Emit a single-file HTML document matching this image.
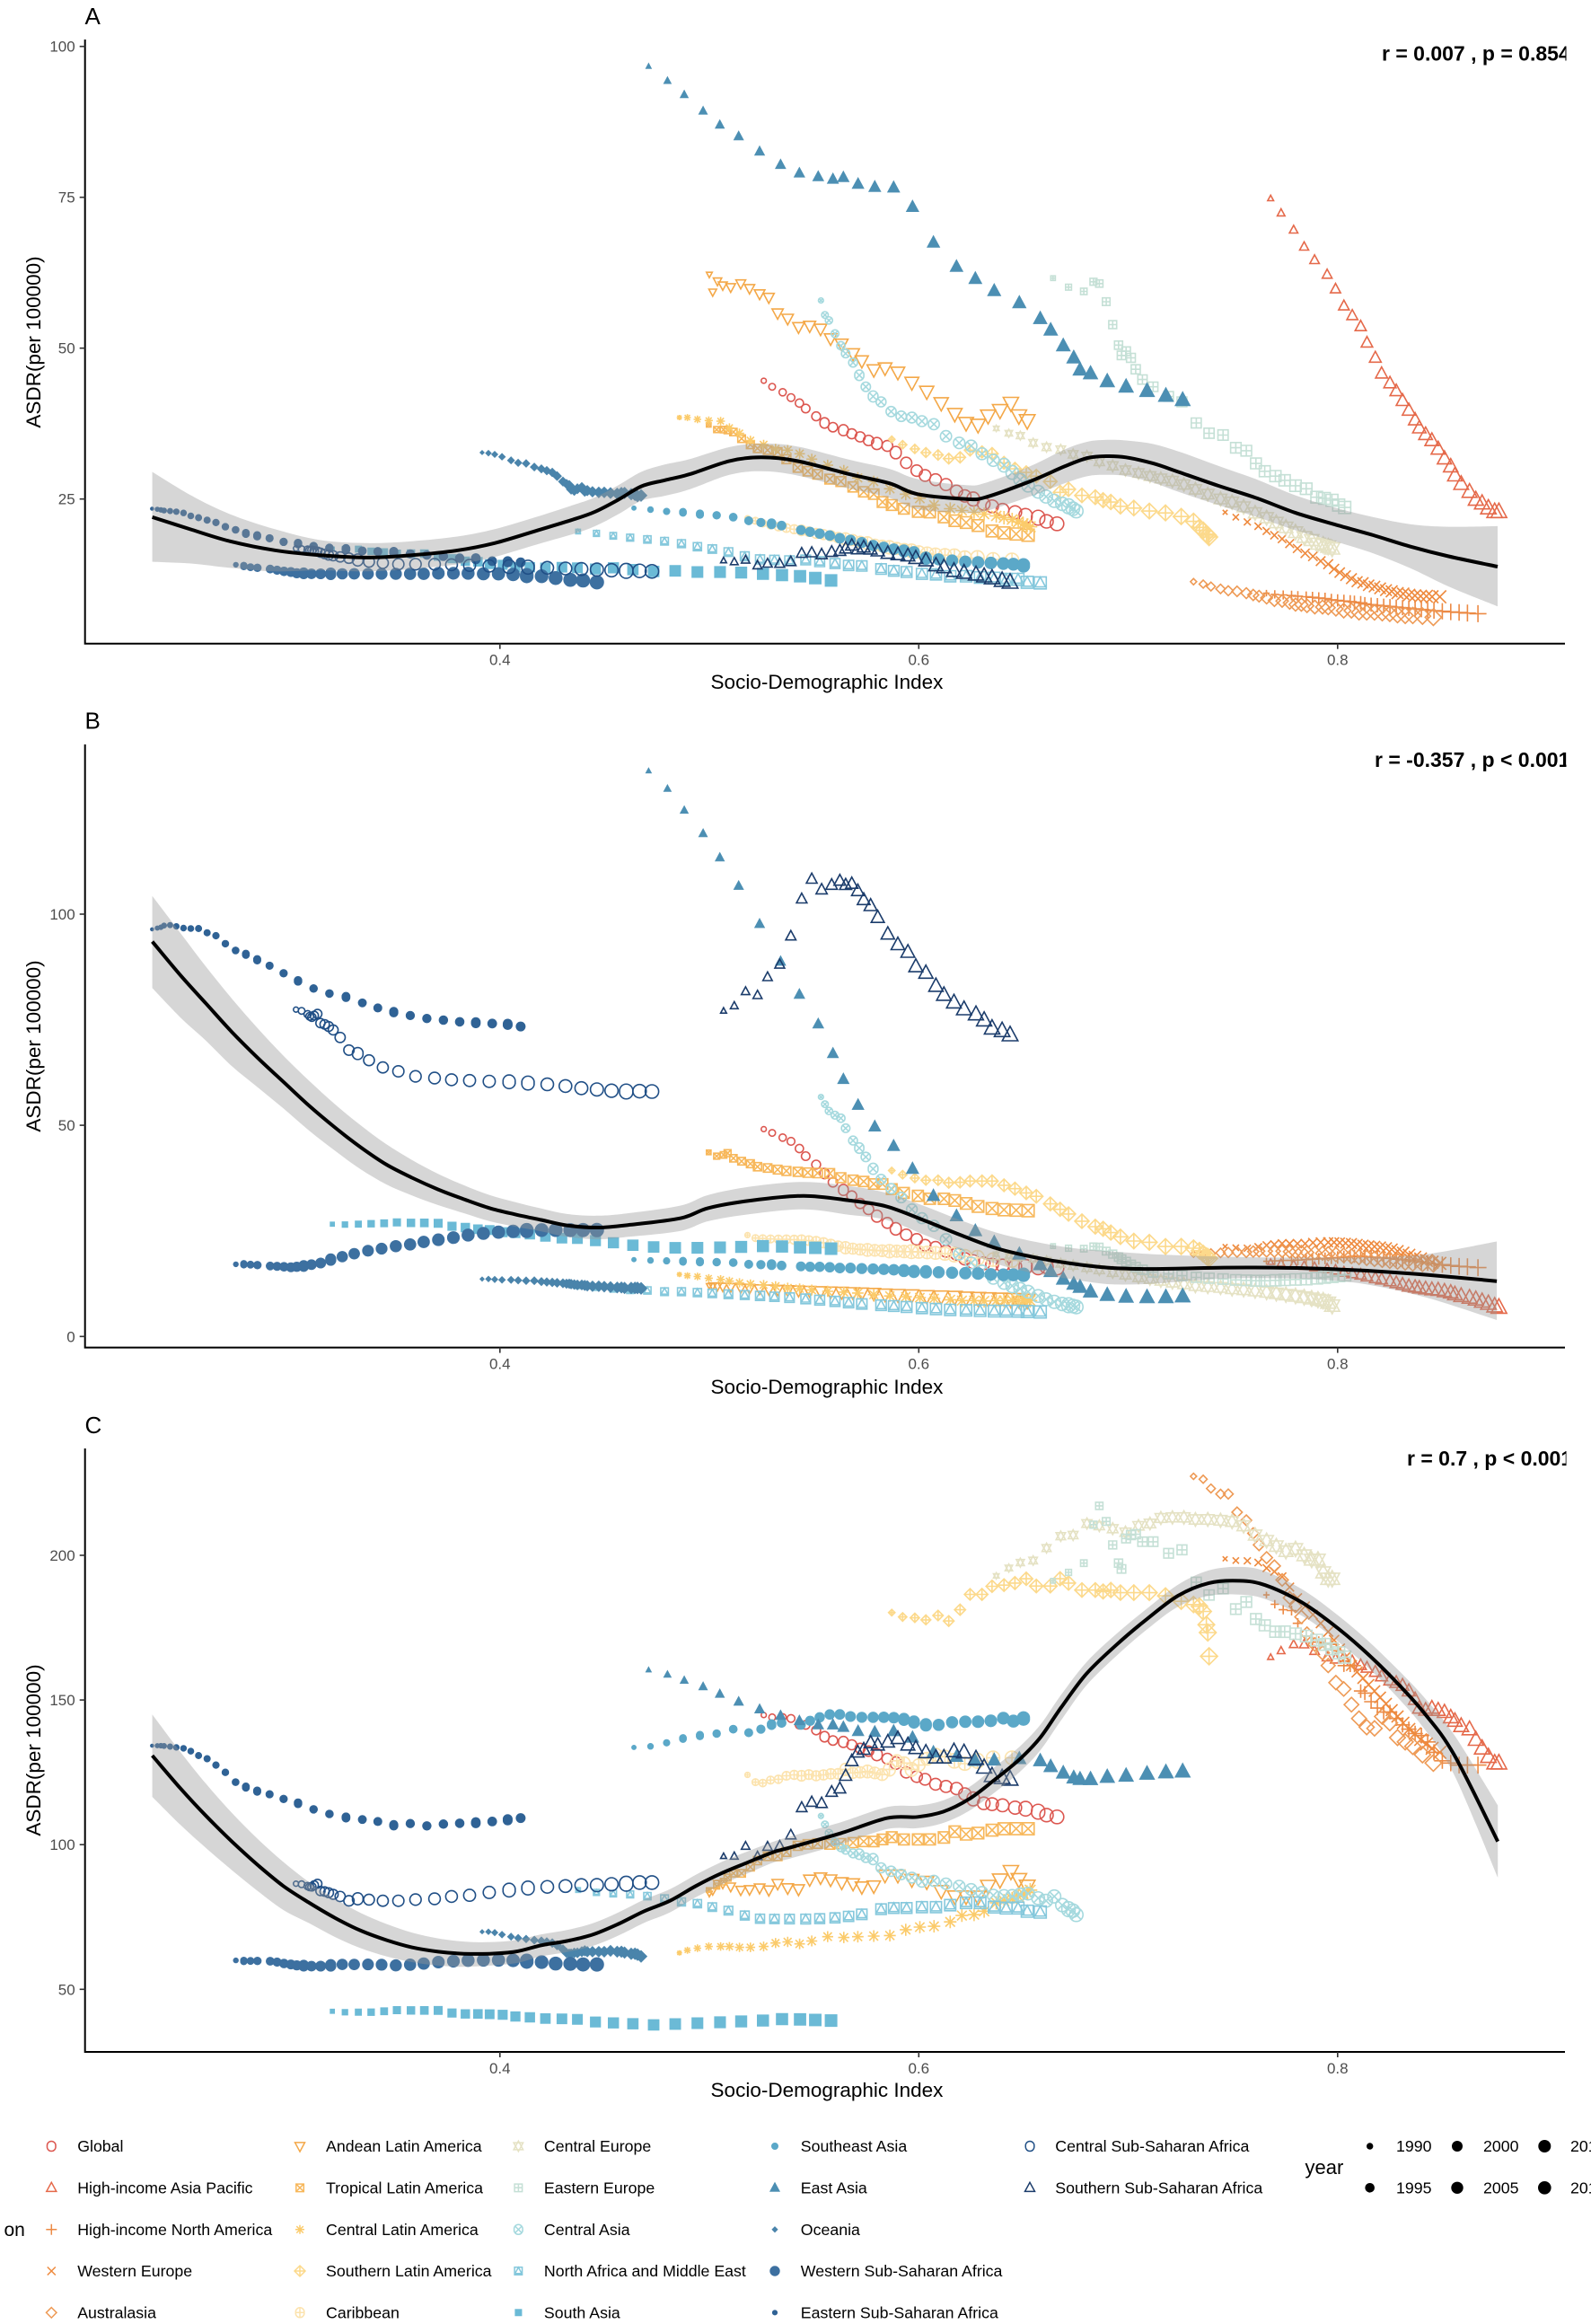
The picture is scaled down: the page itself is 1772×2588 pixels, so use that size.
<!DOCTYPE html>
<html lang="en">
<head>
<meta charset="utf-8">
<title>ASDR vs Socio-Demographic Index</title>
<style>
html,body{margin:0;padding:0;background:#fff;}
svg{display:block;font-family:"Liberation Sans",sans-serif;}
.tick{font-size:17px;fill:#4d4d4d;}
.axt{font-size:22.5px;fill:#000;}
.rt{font-size:23px;font-weight:bold;fill:#000;}
.let{font-size:26px;fill:#000;}
.lg{font-size:17.75px;fill:#000;}
</style>
</head>
<body>
<svg id="chart" xmlns="http://www.w3.org/2000/svg" width="1772" height="2588" viewBox="0 0 1772 2588">
<rect width="1772" height="2588" fill="#fff"/>
<defs><clipPath id="rclip"><rect x="0" y="0" width="1744.5" height="2588"/></clipPath></defs>
<text class="let" x="94.5" y="27">A</text>
<text class="let" x="94.5" y="811.5">B</text>
<text class="let" x="94.5" y="1596">C</text>
<g clip-path="url(#rclip)">
<text class="rt" x="1539" y="67.5">r = 0.007 , p = 0.854</text>
<text class="rt" x="1531" y="854">r = -0.357 , p &lt; 0.001</text>
<text class="rt" x="1567" y="1632">r = 0.7 , p &lt; 0.001</text>
</g>
<text class="axt" x="921" y="767" text-anchor="middle">Socio-Demographic Index</text>
<text class="axt" x="921" y="1552" text-anchor="middle">Socio-Demographic Index</text>
<text class="axt" x="921" y="2335" text-anchor="middle">Socio-Demographic Index</text>
<text class="axt" transform="translate(45,381) rotate(-90)" text-anchor="middle">ASDR(per 100000)</text>
<text class="axt" transform="translate(45,1165) rotate(-90)" text-anchor="middle">ASDR(per 100000)</text>
<text class="axt" transform="translate(45,1949) rotate(-90)" text-anchor="middle">ASDR(per 100000)</text>
<text x="4.5" y="2490" style="font-size:21px">on</text>
<text x="1453.5" y="2421" style="font-size:22px">year</text>
<g id="panels"></g>
<g id="legend"></g>
<g id="sizeLegend"></g>
</svg>
<script>
/* ---------- tick labels ---------- */
const ticksX=[0.4,0.6,0.8];
const ticksA=[25,50,75,100];
const ticksB=[0,50,100];
const ticksC=[50,100,150,200];
const yearLabels=['1990','1995','2000','2005','2010','2015','2020'];

/* ---------- SDI per region, one value per year 1990-2021 ---------- */
const sdi_global=[.526,.530,.535,.539,.543,.546,.551,.555,.559,.564,.568,.572,.576,.580,.585,.589,.594,.599,.603,.608,.613,.618,.622,.626,.631,.635,.640,.646,.651,.657,.661,.666];
const sdi_hiap=[.768,.773,.779,.784,.789,.795,.799,.803,.807,.811,.814,.818,.821,.825,.828,.831,.834,.837,.839,.842,.845,.848,.851,.854,.856,.859,.863,.866,.869,.872,.875,.877];
const sdi_hina=[.766,.770,.774,.778,.781,.785,.788,.791,.794,.797,.800,.803,.806,.808,.811,.813,.816,.819,.822,.825,.828,.831,.834,.837,.840,.843,.846,.850,.854,.858,.862,.867];
const sdi_weur=[.7463,.7514,.7569,.7621,.7661,.7698,.7735,.7771,.7808,.7845,.7882,.7919,.7955,.7983,.801,.8038,.8066,.8093,.8121,.8148,.8176,.8203,.8231,.8258,.8286,.8313,.8341,.8369,.8396,.8424,.8451,.8488];
const sdi_aus=[.7312,.7358,.7395,.7441,.7478,.752,.7564,.7597,.7625,.7661,.7698,.7735,.7771,.7799,.7827,.7854,.7891,.7928,.7955,.7992,.8029,.8066,.8102,.8139,.8176,.8213,.8249,.8286,.8323,.8359,.8405,.8457];
const sdi_andean=[.5,.5016,.5039,.5064,.5102,.515,.5192,.524,.5284,.5326,.5374,.5426,.5479,.5531,.5579,.5632,.5686,.5728,.5785,.5839,.59,.5967,.6038,.6107,.6172,.6226,.6283,.6331,.6388,.644,.6478,.6518];
const sdi_tropical=[.4997,.5035,.5068,.5087,.5115,.5154,.5196,.523,.5278,.5326,.5368,.5422,.547,.5517,.5575,.5628,.5686,.5737,.5785,.5827,.5871,.5929,.5996,.6053,.612,.6172,.6226,.6283,.635,.6407,.6465,.6522];
const sdi_clatin=[.4857,.4895,.4943,.4997,.5054,.5096,.5144,.5196,.5259,.5316,.5374,.5431,.5489,.5565,.5642,.5709,.5785,.5862,.5938,.6005,.6073,.615,.6206,.6264,.6312,.637,.6407,.6446,.6475,.6498,.6517,.6532];
const sdi_slatin=[.5871,.5923,.5981,.6034,.6092,.6143,.6197,.6245,.6302,.635,.6407,.6459,.6513,.6561,.6628,.6675,.6715,.6779,.6843,.688,.6917,.6963,.7027,.7101,.7178,.7253,.7312,.734,.7358,.7373,.738,.7386];
const sdi_carib=[.5182,.522,.5255,.5292,.533,.5368,.5405,.544,.5475,.551,.5545,.558,.5615,.565,.5685,.572,.5755,.579,.5825,.586,.5895,.593,.5965,.6,.604,.608,.6125,.617,.622,.628,.6355,.6445];
const sdi_ceur=[.637,.643,.6485,.6546,.661,.6678,.6737,.6803,.6862,.6926,.6987,.7049,.7104,.7156,.7211,.7266,.7321,.738,.7441,.7496,.7551,.7606,.7661,.7707,.7753,.7799,.784,.7876,.7906,.7931,.7955,.7974];
const sdi_eeur=[.6641,.6715,.6788,.6834,.6862,.6895,.6926,.6954,.6968,.699,.7013,.7036,.7068,.7119,.7193,.7257,.7325,.7386,.7453,.7514,.7564,.761,.7652,.7703,.7747,.7799,.785,.79,.7937,.7973,.8005,.8034];
const sdi_casia=[.5533,.5552,.5571,.56,.5628,.5651,.5686,.5716,.5747,.5782,.582,.5868,.5916,.5967,.6015,.6072,.613,.6193,.625,.6302,.6356,.6407,.6446,.6484,.6522,.657,.6608,.6647,.6685,.6715,.6736,.6752];
const sdi_name=[.4373,.4461,.4541,.4622,.4704,.4786,.4867,.4943,.5014,.5091,.5169,.5242,.5311,.5383,.546,.5527,.56,.5665,.5728,.582,.5881,.5942,.6015,.6082,.615,.6226,.6293,.636,.6417,.6474,.6518,.658];
const sdi_sasia=[.32,.326,.3324,.3385,.3447,.3508,.3575,.3639,.3705,.3771,.3835,.3895,.3951,.4013,.4074,.4143,.4217,.4296,.437,.4456,.4542,.4635,.4734,.4837,.4943,.5051,.5152,.5256,.5347,.5433,.5506,.5581];
const sdi_seasia=[.464,.4719,.4796,.4874,.4955,.5035,.5114,.5188,.5246,.5297,.5345,.5437,.5481,.5527,.5575,.5623,.5674,.5728,.5782,.5833,.5881,.5929,.5977,.6034,.6095,.6159,.6222,.6283,.6344,.6404,.6452,.65];
const sdi_easia=[.471,.480,.488,.497,.505,.514,.524,.534,.543,.552,.559,.564,.571,.579,.588,.597,.607,.618,.627,.636,.648,.658,.663,.669,.674,.677,.682,.690,.699,.709,.718,.726];
const sdi_oceania=[.3915,.3945,.3975,.401,.4053,.4087,.4125,.4164,.4198,.4224,.425,.4273,.4301,.4318,.4331,.434,.4355,.437,.4391,.4405,.4417,.4442,.4472,.4498,.4528,.456,.458,.4595,.4627,.4645,.4657,.4674];
const sdi_wssa=[.2739,.2777,.2809,.2842,.2903,.2936,.2969,.3002,.303,.3063,.31,.3144,.3192,.3247,.3304,.337,.3435,.3503,.3571,.3636,.3706,.3778,.3848,.3921,.3993,.4063,.4128,.4199,.4266,.4336,.4397,.4463];
const sdi_essa=[.2339,.2364,.2381,.2396,.2425,.2455,.2489,.2524,.2561,.2602,.2644,.2689,.2738,.2787,.2841,.29,.2967,.3036,.311,.3186,.3265,.3343,.3417,.3493,.3572,.3651,.373,.3808,.3885,.3963,.4037,.4099];
const sdi_cssa=[.3026,.3053,.3082,.3092,.3102,.3113,.3129,.3143,.3163,.3182,.3204,.3237,.3279,.3321,.3375,.3441,.3515,.3597,.3688,.3769,.3855,.3949,.4044,.4134,.4226,.4313,.4389,.4463,.4533,.4603,.4667,.4726];
const sdi_sssa=[.5068,.5119,.5173,.523,.5278,.5336,.5389,.5441,.5489,.5536,.5584,.5623,.5651,.568,.5709,.5737,.577,.5804,.5852,.59,.5948,.5986,.6034,.6082,.612,.6168,.6216,.6273,.6312,.635,.6398,.6436];

/* ---------- panel A ASDR ---------- */
const a_global=[44.6,43.6,42.7,41.8,40.9,40,38.7,37.6,36.9,36.4,35.8,35.3,34.7,34.2,33.8,32.7,31,29.7,28.9,28.2,27.4,26.3,25.5,25,24.2,23.8,23.2,22.8,22.2,21.9,21.3,20.9];
const a_hiap=[74.8,72.4,69.6,66.8,64.6,62.2,59.8,57,55.4,53.6,50.9,48.4,45.8,44.2,42.9,41.3,39.7,38.1,36.8,35.7,34.7,33.3,31.7,30.4,28.9,27.5,26.2,24.9,24.3,23.5,22.9,22.9];
const a_hina=[9.4,9.2,9.1,9.0,8.9,8.8,8.7,8.6,8.5,8.3,8.2,8.1,8.0,7.9,7.8,7.6,7.5,7.4,7.3,7.2,7.1,7.0,6.9,6.8,6.7,6.6,6.5,6.4,6.3,6.2,6.1,6.0];
const a_weur=[22.8,22,21.2,20.5,19.7,19,18.4,17.6,16.8,16,15.5,14.7,14.2,13.4,12.8,12.3,11.8,11.3,11.1,10.7,10.5,10.2,9.9,9.7,9.4,9.3,9.1,9,8.9,8.9,8.8,8.8];
const a_aus=[11.3,10.9,10.5,10.1,9.8,9.7,9.4,9.1,8.9,8.6,8.2,8.1,7.8,7.5,7.5,7.3,7.1,7.1,7,6.8,6.5,6.5,6.2,6.2,6.2,6.1,6,5.8,5.7,5.7,5.6,5.4];
const a_andean=[62.2,59.3,61.1,60.4,60.1,60.7,59.9,59,58.4,55.8,54.9,53.5,53.7,53.2,51.6,50.7,49.1,47.9,46.4,46.7,46,44.3,42.8,40.9,39.1,37.6,37.3,38.8,39.7,40.9,38.8,38];
const a_tropical=[37.3,36.5,36.5,36.4,36.1,35,34,33.4,33.1,32.8,31.6,30.2,29.6,29.1,28.3,27.9,27,26.2,25.8,24.5,24,23.4,22.9,22.8,22,21.4,21.1,20.6,19.7,19.4,19.2,19];
const a_clatin=[38.5,38.5,38.2,38,37.9,36.8,35.9,34.7,34,33.3,33.1,32.5,31.6,30.6,29.7,28.5,27.9,26.7,25.8,25.1,24,23.4,23.1,22.8,22.5,22.2,21.9,21.6,21.2,20.9,20.6,20.4];
const a_slatin=[34.9,34,33.3,32.7,32.3,31.7,31.9,33.1,32.8,32.5,31,30,29.4,28.8,27.9,26.1,26.6,25.6,25.3,24.8,24.5,23.8,23.5,23,22.7,22.1,21.3,20.3,19.8,19.2,19,18.7];
const a_carib=[21.8,21.4,21,20.7,20.4,20.2,20,19.8,19.6,19.3,19.1,18.9,18.6,18.4,18.2,17.9,17.7,17.4,17.2,17,16.8,16.6,16.4,16.2,16,15.8,15.7,15.5,15.3,15.2,15,14.9];
const a_ceur=[36.7,35.9,35.5,34.3,33.6,33.2,32.4,32.1,31.2,30.5,29.8,29.3,28.8,28.4,28,27.4,26.6,25.8,25,24.5,23.7,22.7,21.9,21.1,20.3,19.5,18.7,18.2,17.6,17.4,17.1,16.8];
const a_eeur=[61.6,60.1,59.4,61,60.7,57.7,53.9,50.5,48.8,49.5,48.4,46.5,44.8,43.6,42,41.1,37.6,35.9,35.6,33.5,33,30.9,29.6,28.8,28.1,27.2,26.7,25.3,25.1,24.8,24,23.6];
const a_casia=[57.9,55.5,54.6,52.4,50.4,49.1,47.6,45.5,43.6,42,41.1,39.5,38.7,38.5,37.9,37.4,35.4,34.3,33.8,32.5,31.4,30.6,29.4,28.2,27.2,26.2,25.4,24.7,24.2,23.8,23.4,23];
const a_name=[19.6,19.3,18.9,18.6,18.3,18,17.6,17.1,16.7,16.2,15.5,15,14.9,14.8,14.9,14.6,14.3,14,13.9,13.4,13.1,12.9,12.6,12.5,12.2,12.2,12,11.9,11.7,11.7,11.2,11.1];
const a_sasia=[16.7,16.7,16.7,16.35,16.2,15.95,15.95,15.95,15.5,15.1,14.7,14.6,14.2,14.1,13.7,13.7,13.6,13.7,13.6,13.4,13.6,13.3,13,13.1,12.9,12.9,12.8,12.6,12.4,12.2,11.9,11.5];
const a_seasia=[23.5,23.25,22.95,22.8,22.5,22.3,22,21.4,21.1,20.9,20.6,19.85,19.55,19.25,18.95,18.5,18.2,17.8,17.3,17,16.7,16.4,16.1,15.2,15,14.8,14.6,14.5,14.4,14.3,14.2,14];
const a_easia=[96.7,94.3,92,89.3,87,85.1,82.6,80.4,79,78.4,78,78.3,77.2,76.7,76.6,73.4,67.5,63.5,61.5,59.5,57.5,54.9,53,50.4,48.4,46.4,45.8,44.5,43.6,42.9,42.1,41.4];
const a_oceania=[32.7,32.6,32.4,32,31.4,31,30.9,30.3,30,29.7,29.4,28.8,27.9,27.5,27.3,26.6,26.4,26.7,26.9,26.3,26.4,26.2,26.1,26.1,26,25.9,26,26,25.8,25.7,25.5,25.6];
const a_wssa=[14.1,13.9,13.7,13.6,13.4,13.2,13,12.9,12.7,12.7,12.6,12.6,12.6,12.6,12.6,12.6,12.6,12.6,12.6,12.6,12.7,12.7,12.7,12.6,12.6,12.5,12.3,12.2,11.9,11.6,11.5,11.2];
const a_essa=[23.4,23.3,23.2,23.1,23,22.9,22.7,22.2,21.9,21.5,21.1,20.4,19.9,19.3,18.9,18.5,17.9,17.6,17.2,16.9,16.7,16.4,16.3,16.2,15.9,15.7,15.5,15.2,15.1,14.7,14.6,14.5];
const a_cssa=[16.8,16.7,16.6,16.5,16.5,16.4,16.3,16.1,15.9,15.7,15.6,15.4,15.2,14.9,14.6,14.4,14.2,14.2,14.2,14.1,14,13.9,13.8,13.7,13.6,13.5,13.4,13.3,13.2,13.1,13.1,13];
const a_sssa=[14.8,14.6,14.9,14,14.3,14.3,14.6,16,16.1,15.8,16.2,16.4,16.8,17.3,16.7,17,16.7,16.4,16,15.8,15.6,15.2,14.8,14,13.7,13.1,12.8,12.5,12.2,11.9,11.5,11.2];

/* ---------- panel B ASDR ---------- */
const b_global=[49.1,48.2,47.1,46.2,44.5,42.7,40.7,38.6,36.5,34.7,33.3,31.5,30.1,28.5,26.9,25.5,24.1,23,21.6,21.1,20.2,19.5,18.4,17.7,17.3,17,16.8,16.6,16.5,16.4,16.5,16.2];
const b_hiap=[17.6,17.3,17,16.7,16.4,16,15.7,15.2,14.9,14.6,14.2,13.8,13.5,13.1,12.7,12.3,11.9,11.7,11.5,11.3,11.1,11,10.7,10.4,10,9.6,9.2,8.8,8.3,7.8,7.2,6.9];
const b_hina=[17.8,17.9,18,18,18.1,18.2,18.3,18.4,18.5,18.6,18.7,18.8,18.9,19,19,18.9,18.8,18.7,18.6,18.5,18.3,18.2,18,17.8,17.6,17.4,17.2,17,16.8,16.6,16.5,16.3];
const b_weur=[21.3,21,20.9,21.2,21.6,21.8,22,22,22,22,22.2,22.3,22.3,22.3,22.2,22.1,22,21.8,21.6,21.4,21.3,21.1,20.9,20.6,20.2,19.8,19.3,18.8,18.4,18,17.6,17.3];
const b_aus=[19.5,19.6,19.7,19.8,19.9,20,20,20.1,20.2,20.2,20.2,20.2,20.1,20,20,19.9,19.8,19.7,19.6,19.4,19.2,19,18.8,18.6,18.4,18.2,18,17.8,17.6,17.4,17.3,17.2];
const b_andean=[12,12,11.9,11.8,11.7,11.5,11.4,11.3,11.2,11.1,11,10.9,10.8,10.7,10.6,10.5,10.4,10.3,10.2,10,9.9,9.8,9.6,9.5,9.4,9.2,9.1,9,8.9,8.8,8.8,8.6];
const b_tropical=[43.6,42.7,43,43.4,42.2,41.5,40.9,40.2,39.9,39.5,39.2,39,38.8,38.7,38.6,37.6,37,36.7,36.1,36.1,34.9,34,33.3,32.6,32.6,32.2,31.5,30.8,30.3,30,29.9,29.8];
const b_clatin=[14.7,14.4,14.2,13.8,13.5,13.1,12.7,12.4,12.2,11.9,11.5,11.3,11,10.7,10.5,10.3,9.9,9.6,9.4,9.2,9,8.7,8.5,8.5,8.4,8.5,8.5,8.6,8.5,8.5,8.5,8.5];
const b_slatin=[39.3,38.3,37.5,37,37,36.4,36.5,36.8,36.8,36.8,35.8,35,34,33.2,31.4,30.1,29,27.3,26,25.5,24.6,23.6,22.6,22.3,21.3,21.3,20.9,20.3,19.6,19,18.8,18.5];
const b_carib=[24,23.3,23.2,23.1,23,23,22.9,22.8,22.7,22.5,22.2,21.8,21.4,21,20.8,20.6,20.5,20.4,20.3,20.2,20.2,20.1,20.1,20,19.9,19.8,19.6,19.4,19,18.6,18.2,18];
const b_ceur=[19.5,19.2,18.8,18.4,17.9,17.3,16.8,16.3,15.8,15.2,14.6,14,13.6,13.2,12.8,12.4,12,11.8,11.6,11.3,11.1,10.8,10.5,10.2,9.9,9.6,9.3,9,8.7,8.5,8,7.3];
const b_eeur=[21.4,20.9,20.8,21.3,21.2,20.2,19.5,18.8,18.3,17.7,17,16.4,15.8,15.2,14.8,14.4,14,13.8,13.6,13.4,13.3,13.2,13.2,13.3,13.4,13.5,13.6,13.8,14,14.2,14.4,14.6];
const b_casia=[56.7,55,53.4,52.4,51.7,49.3,46.4,44.6,42.5,39.7,37.2,35,32.9,30.1,28,26.2,23,19.5,17.4,15.5,13.8,12.8,12,11.3,10.6,9.6,8.8,8.2,7.7,7.4,7.2,7];
const b_name=[11.9,11.6,11.3,11,10.9,10.6,10.6,10.4,10.2,10,9.8,9.6,9.4,9.2,8.9,8.6,8.3,8,7.7,7.4,7.2,7,6.7,6.5,6.3,6.2,6.1,6,6,6,5.9,5.8];
const b_sasia=[26.6,26.5,26.6,26.7,26.8,27,26.9,26.9,26.8,26.1,25.8,25.4,25.2,24.7,24.5,24.2,23.7,23.3,23.2,22.7,22.2,21.6,21.2,21,21,21.1,21.2,21.4,21.3,21.1,21,20.8];
const b_seasia=[18.2,18,17.9,17.8,17.7,17.6,17.5,17.1,17,17,16.8,16.6,16.5,16.5,16.4,16.2,16.2,16.1,16,15.9,15.8,15.6,15.4,15.3,15.2,15.1,15,14.9,14.7,14.6,14.6,14.6];
const b_easia=[133.9,129.7,124.6,119.1,113.4,106.7,97.7,88.8,81,74,67,60.9,54.8,49.7,45.1,39.7,33.3,28.5,25,22.3,19.5,17,15.4,13.6,12.4,11.7,10.6,9.8,9.4,9.3,9.3,9.5];
const b_oceania=[13.6,13.6,13.5,13.4,13.4,13.3,13.2,13.2,13,12.9,12.8,12.7,12.6,12.5,12.5,12.4,12.3,12.2,12.2,12.1,12,11.9,11.9,11.8,11.7,11.6,11.6,11.5,11.5,11.5,11.5,11.4];
const b_wssa=[17.1,17.1,17,16.9,16.7,16.6,16.5,16.4,16.5,16.7,17,17.4,18.2,18.9,19.6,20.3,20.8,21.4,21.8,22.4,22.9,23.4,24,24.4,24.7,24.9,25.1,25.2,25.2,25.2,25.2,25.2];
const b_essa=[96.4,96.7,96.9,97.3,97.4,97.1,96.7,96.6,96.6,95.6,94.9,93,91.4,90.5,89.2,87.8,86,84.2,82.4,81.2,80.4,79,77.8,76.8,76,75.3,74.9,74.5,74.3,74.1,73.9,73.4];
const b_cssa=[77.4,77.1,76.3,75.8,75.6,76,76.4,74.2,73.9,73.4,72.6,70.8,67.8,67,65.4,63.7,62.8,61.6,61.2,60.8,60.6,60.4,60.3,60,59.7,59.3,58.8,58.5,58.2,58,58.1,58];
const b_sssa=[77.1,78.3,81.7,80.8,85.1,88.1,94.8,103.6,108.3,105.8,106.9,107.9,106.9,107.2,105.5,103.4,102,99.2,95.3,92.8,91,87.6,86.1,83,80.9,79.1,77.5,76.3,74.9,73,72.4,71.4];

/* ---------- panel C ASDR ---------- */
const c_global=[144.8,144,144,143.6,141.4,141.4,139.5,137.3,136,135.5,134.5,133.3,132.3,131.1,129.7,128.2,125,123.5,122.6,120.9,120.1,119.4,117.5,115.8,114.3,114,113.6,112.8,112.4,111.4,110.2,109.6];
const c_hiap=[164.8,167,169.2,169.2,167,164.8,164.1,164.8,163.4,162,161.1,159.7,158.2,156.8,156,155,153.1,150.2,147.2,146.5,147.2,146.5,145.8,144,142.8,141,139.9,136.3,133.3,130.4,128.2,128.2];
const c_hina=[186.3,183.1,181.2,180.9,176.5,172.1,170,170,169.5,169.2,167,161.9,161.9,161.9,153.1,152.4,149.4,147.2,145.8,145.8,143.6,141.4,139.9,138.4,137.7,135.5,131.9,129,128.2,127.5,127.5,127.5];
const c_weur=[198.8,198.2,198.1,197.5,195.6,194.4,192.6,189,185.3,182.4,179.5,176.5,173.6,170.7,167.7,164.8,161.9,159.7,157.5,155.3,153.1,150.9,148.7,146.5,144.3,142.1,139.9,138.4,136.3,134.8,133.3,131.9];
const c_aus=[227.3,226.3,223.1,221.2,221.2,214.9,212.1,207.6,203.6,199.2,196.3,191.5,185.3,182.4,178.7,172.9,169.2,166.3,161.9,156,153.8,148.4,143.6,140.6,140.2,144.3,142.1,137,135.5,134,131.1,128.2];
const c_andean=[83.1,84,86.5,86.5,85.5,84.3,84.5,85,84.3,86.5,85,84.6,87.9,88.6,87.9,86.9,86.5,85.4,85.7,89.4,89.4,87.9,87.2,84,82.1,82.1,82,85.7,87.9,90.8,88,85.7];
const c_tropical=[84.3,85.7,87.2,88.6,90.1,90.1,92.3,94.5,96,96,97.5,99.6,100.1,100.4,100.1,100.4,100.7,101.1,101.1,101.8,102.6,101.8,101.8,101.8,102.5,104.5,103.6,104,105,105.5,105.5,105.5];
const c_clatin=[62.6,63.5,64.2,64.8,64.8,64.8,64.5,64.5,64.8,66,66.4,65.7,66.7,68.2,67.9,68.2,68.4,68.6,70.6,71.5,71.8,73.3,75.5,75.8,77,79.9,80.6,81.3,82.1,83.1,83.5,84.3];
const c_slatin=[180.2,178.7,178.4,177.7,179.2,177.3,181.2,186.5,186.5,189.3,189.7,190.4,191.9,189.4,189.4,191.9,190.4,188,188,187.5,188,187.1,187.1,187.1,186,184.1,183,182.4,180.6,176,173.3,165.1];
const c_carib=[124.1,121.6,121.3,122.3,122.6,123.8,124.1,123.8,124.2,123.8,124.1,124.5,124.5,126,124.8,125,125.3,124.8,124.2,126,129,128.2,126,127.5,129.7,131.1,130.4,129,128,129,130,130];
const c_ceur=[192.9,195.6,197.5,198.2,202.5,206.6,207,211,210.2,209.2,208,210.2,211,212.9,213.1,213.1,212.4,212.4,212.1,211.7,210.2,207,205.1,203.2,201.4,202.2,200,198.5,198.5,194.1,191.9,191.9];
const c_eeur=[191.2,194.1,197.3,210.6,217.1,211.7,203.6,197.3,195.3,205.8,207,207.3,204.7,204.7,200.7,201.9,190.7,186.3,188.5,181.4,183.9,178,175.8,173.6,173.6,172.9,172.1,170.7,169.2,167.7,166.3,164.8];
const c_casia=[109.9,107,104,101,99,98.2,97,96.7,95.5,95,92,90.8,89.7,88.6,87.2,87.5,86.5,85.7,84.5,83.5,82.5,82.1,82.1,82.8,83.1,81.5,80.6,82.1,79.1,77.7,77.2,75.8];
const c_name=[84.3,83.5,83.1,82.8,82.2,81.3,80.2,79.6,78.4,77.2,75.5,74.4,74.3,74.3,74.3,74.4,74.7,75.2,75.9,77.7,78.1,78.1,78.4,78.4,79.1,79.9,79.9,78.4,78.1,78.1,77,76.7];
const c_sasia=[42.4,42.1,42.1,42.1,42.4,42.8,42.7,42.7,42.7,41.8,41.5,41.5,41.4,41.2,40.6,40.3,39.9,39.8,39.6,38.7,38.4,38.1,37.7,38,38.3,38.6,38.9,39.2,39.7,39.6,39.4,39.2];
const c_seasia=[133.6,134,135.2,136.7,137.7,138.4,139.9,138.7,139.9,141.5,142.1,141.4,142.8,144,145,145,144.3,144,144,144,143.9,143.3,142.4,141.4,141.4,142.3,142.5,142.5,142.8,143.7,142.7,143.6];
const c_easia=[160.4,158.8,156.8,154.6,152.1,149.4,146.8,144.6,142.8,141.4,141.4,140.6,139.2,138.9,139.2,137,131.9,130.4,129,129.2,129.7,129,127,124.8,123.1,122.6,122.6,123.4,123.8,124.5,125,125.3];
const c_oceania=[69.9,69.9,69.6,68.9,68.2,67.7,67.4,67,66.7,66.4,66,65.2,63.8,62.6,62.3,62.3,62.6,62.6,63,63.3,63,63,63,63,63.3,63,63,62.7,62.3,62.3,62,61.4];
const c_wssa=[60,59.8,59.8,59.8,59.7,59.4,58.9,58.6,58.3,58.2,58,58,58.3,58.6,58.6,58.6,58.5,58.3,58.5,58.9,59.4,59.7,60,60.1,60.1,60,59.7,59.4,58.9,58.8,58.6,58.6];
const c_essa=[134.2,134.2,134.2,134.1,133.9,133.6,133.3,132.3,130.8,129.7,127.5,125,121.6,119.9,118.5,117.4,115.8,114.3,112.2,110.6,109.4,108.7,108,106.7,107.3,106.5,107.1,107.4,107.6,108,108.6,109.2];
const c_cssa=[86.5,86.3,85.7,85.4,85.4,86,86.5,84,83.8,83.4,82.8,82.1,80.6,81.3,81,80.6,80.6,81,81.3,82.1,82.5,83.5,84.3,85,85.4,85.7,86,86,86.3,86.5,86.9,86.9];
const c_sssa=[96,96,99.5,96,99.3,99.6,103.3,112.8,114.7,114.3,118.2,119.4,123.8,128.9,131.9,132.9,135.2,134.4,135.5,136.7,134.5,133.3,131.9,130.1,130.1,132.3,131.9,129.7,126.7,123.8,123.1,122.6];

/* ---------- fitted smooth curves (SDI, fit, upper CI, lower CI) ---------- */
const smoothA_x=[.234,.253,.271,.2925,.314,.336,.358,.380,.3975,.417,.435,.4455,.4566,.4675,.4785,.4906,.5096,.5248,.542,.567,.586,.5995,.6226,.632,.653,.6696,.6806,.690,.699,.712,.7247,.743,.7617,.780,.7985,.817,.835,.853,.8764];
const smoothA_y=[22,19.9,18,16.5,15.7,15.3,15.7,16.5,17.7,19.7,21.6,22.9,24.9,27.1,28.1,29.1,31.3,31.9,31.3,29.1,27.6,25.8,25,25.3,27.9,30.4,31.8,32.1,31.9,30.9,29.4,27.2,25.1,22.7,20.8,19,17.1,15.5,13.8];
const smoothA_hi=[29.5,25.5,22.5,20,18.2,17.7,18,18.8,20,22,24,25.3,27.3,29.5,30.7,31.6,33.6,34.2,33.7,31.5,30,28.3,27.3,27.7,30.4,33.2,34.5,34.8,34.7,34.1,32.8,30.5,28.2,25.6,23.6,22,20.8,20.4,20.5];
const smoothA_lo=[14.6,14.3,13.6,13,13.2,13,13.4,14.2,15.4,17.4,19.2,20.5,22.5,24.7,25.5,26.6,29,29.6,28.9,26.7,25.2,23.3,22.7,23,25.4,27.6,28.8,29,28.8,27.7,26.1,24,22,19.8,18,16,13.5,10.5,7.2];
const smoothB_x=[.234,.2475,.2597,.272,.2843,.2966,.309,.3212,.3335,.3458,.358,.3705,.3828,.395,.4074,.4197,.432,.4468,.4614,.4863,.4995,.520,.545,.567,.5845,.602,.6196,.637,.6548,.6723,.69,.7075,.7252,.7457,.769,.7897,.813,.8425,.876];
const smoothB_y=[93.5,85.5,78.8,72.1,66,60.3,54.6,49.5,44.8,40.7,37.6,34.8,32.5,30.4,28.9,27.6,26.3,25.8,26.4,28,30.4,32.2,33.3,32.2,30.8,27.6,24.1,20.9,18.8,17.3,16.3,16,16.1,16.3,16.3,16.1,15.6,14.6,13.1];
const smoothB_hi=[104.3,95.5,87.5,80,73,66.5,60.5,55,50,45.5,41.8,38.5,35.8,33.5,31.8,30.3,29,28.6,29.2,31,33.5,35.5,36.6,35.6,34,31,27.6,24.6,22.5,21,20.2,19.6,19.2,18.9,18.7,18.7,18.8,19.5,22.5];
const smoothB_lo=[82.5,75.5,70,64,59,54,48.7,44,39.6,36,33.4,31.1,29.2,27.3,26,24.9,23.6,23,23.6,25,27.3,29,30.1,28.8,27.6,24.2,20.6,17.2,15,13.6,12.4,12.4,13,13.7,13.8,13.5,12.4,9.2,3.9];
const smoothC_x=[.234,.2475,.2597,.272,.2843,.2966,.309,.3212,.3335,.3458,.358,.3705,.3828,.395,.4074,.4197,.432,.4443,.4566,.4689,.4812,.4935,.5058,.5181,.5304,.5385,.563,.585,.5995,.6117,.6239,.636,.6483,.658,.6678,.680,.6946,.709,.7237,.7385,.7532,.7654,.7825,.7971,.8117,.8263,.841,.8556,.8765];
const smoothC_y=[130.8,119.4,109.9,101.1,93,85.7,79.9,74.7,70.3,67,64.5,63,62.3,62.3,63,65.2,66.7,68.9,72.6,77,80.6,85.7,90.1,93.8,97.4,99,104,109.2,109.6,111.4,115.7,122.3,129.6,137,147.2,159,169.2,178,186,190.4,191.2,189.7,183.9,176.5,167.7,157.5,145.8,131.1,101.1];
const smoothC_hi=[145,132,121,111,102,94,87,81.3,76.4,72.6,69.6,67.6,66.5,66.3,67,69,70.5,72.8,76.6,81,84.6,89.6,94,97.6,101,102.8,107.8,113,113.5,115.3,119.8,126.7,134,141.4,151.6,163,173,181.6,189.8,194.8,196,194.5,188.5,181,172.3,162.3,151.2,138,113.6];
const smoothC_lo=[116.5,106.8,98.8,91.2,84,77.4,72.8,68.1,64.2,61.4,59.4,58.2,57.8,58.2,59,61.4,62.9,65,68.6,73,76.6,81.8,86.2,90,93.8,95.2,100.2,105.4,105.7,107.5,111.6,117.9,125.2,132.6,142.8,155,165.4,174.4,182.2,186,186.4,184.9,179.3,172,163.1,152.7,140.4,124.2,88.6];

/* ---------- region names ---------- */
const regionNames=['Global','High-income Asia Pacific','High-income North America','Western Europe','Australasia','Andean Latin America','Tropical Latin America','Central Latin America','Southern Latin America','Caribbean','Central Europe','Eastern Europe','Central Asia','North Africa and Middle East','South Asia','Southeast Asia','East Asia','Oceania','Western Sub-Saharan Africa','Eastern Sub-Saharan Africa','Central Sub-Saharan Africa','Southern Sub-Saharan Africa'];
const regionSdi=[sdi_global,sdi_hiap,sdi_hina,sdi_weur,sdi_aus,sdi_andean,sdi_tropical,sdi_clatin,sdi_slatin,sdi_carib,sdi_ceur,sdi_eeur,sdi_casia,sdi_name,sdi_sasia,sdi_seasia,sdi_easia,sdi_oceania,sdi_wssa,sdi_essa,sdi_cssa,sdi_sssa];
const panelAValues=[a_global,a_hiap,a_hina,a_weur,a_aus,a_andean,a_tropical,a_clatin,a_slatin,a_carib,a_ceur,a_eeur,a_casia,a_name,a_sasia,a_seasia,a_easia,a_oceania,a_wssa,a_essa,a_cssa,a_sssa];
const panelBValues=[b_global,b_hiap,b_hina,b_weur,b_aus,b_andean,b_tropical,b_clatin,b_slatin,b_carib,b_ceur,b_eeur,b_casia,b_name,b_sasia,b_seasia,b_easia,b_oceania,b_wssa,b_essa,b_cssa,b_sssa];
const panelCValues=[c_global,c_hiap,c_hina,c_weur,c_aus,c_andean,c_tropical,c_clatin,c_slatin,c_carib,c_ceur,c_eeur,c_casia,c_name,c_sasia,c_seasia,c_easia,c_oceania,c_wssa,c_essa,c_cssa,c_sssa];

/* ---------- styling (not data) ---------- */
const regionColors=['#dc5750','#e5694a','#ec8a45','#ee8a3e','#ee9a55','#f4a848','#f7b75a','#fbcb6b','#fcd98b','#fce3ae','#e5e2c4','#c5e0d6','#a5d9de','#85c8dc','#6bbad6','#5ba8c8','#4c8fb3','#4a84ab','#3d70a0','#2f6295','#204f86','#1b3c6b'];
const regionShapes=[1,2,3,4,5,6,7,8,9,10,11,12,13,14,15,16,17,18,19,20,21,24];

const svgNS='http://www.w3.org/2000/svg';
function mk(tag,parent){const e=document.createElementNS(svgNS,tag);parent.appendChild(e);return e;}
const n=v=>v.toFixed(1);
function circ(x,y,r){return `M${n(x-r)} ${n(y)}A${n(r)} ${n(r)} 0 1 0 ${n(x+r)} ${n(y)}A${n(r)} ${n(r)} 0 1 0 ${n(x-r)} ${n(y)}Z`;}
function triUp(x,y,r){return `M${n(x)} ${n(y-r*1.1)}L${n(x+r)} ${n(y+r*.75)}L${n(x-r)} ${n(y+r*.75)}Z`;}
function triDn(x,y,r){return `M${n(x)} ${n(y+r*1.1)}L${n(x+r)} ${n(y-r*.75)}L${n(x-r)} ${n(y-r*.75)}Z`;}
function plus(x,y,r){return `M${n(x-r)} ${n(y)}H${n(x+r)}M${n(x)} ${n(y-r)}V${n(y+r)}`;}
function cross(x,y,r){const d=r*.75;return `M${n(x-d)} ${n(y-d)}L${n(x+d)} ${n(y+d)}M${n(x-d)} ${n(y+d)}L${n(x+d)} ${n(y-d)}`;}
function diam(x,y,r){return `M${n(x)} ${n(y-r)}L${n(x+r)} ${n(y)}L${n(x)} ${n(y+r)}L${n(x-r)} ${n(y)}Z`;}
function sq(x,y,r){const d=r*.85;return `M${n(x-d)} ${n(y-d)}H${n(x+d)}V${n(y+d)}H${n(x-d)}Z`;}
function shapePath(s,x,y,r){
  switch(s){
    case 1:case 21:return circ(x,y,r*.95);
    case 2:case 24:case 17:return triUp(x,y,r*1.1);
    case 3:return plus(x,y,r*1.2);
    case 4:return cross(x,y,r*1.2);
    case 5:return diam(x,y,r*1.15);
    case 18:return diam(x,y,r*.85);
    case 6:return triDn(x,y,r*1.1);
    case 7:return sq(x,y,r)+cross(x,y,r*.95);
    case 8:return plus(x,y,r)+cross(x,y,r);
    case 9:return diam(x,y,r*1.2)+plus(x,y,r*1.2);
    case 10:return circ(x,y,r*.95)+plus(x,y,r*.95);
    case 11:return triUp(x,y,r*1.05)+triDn(x,y,r*1.05);
    case 12:return sq(x,y,r)+plus(x,y,r*.85);
    case 13:return circ(x,y,r*.95)+cross(x,y,r*.9);
    case 14:return sq(x,y,r)+triUp(x,y,r*.75);
    case 15:return sq(x,y,r);
    case 16:return circ(x,y,r*.88);
    case 19:return circ(x,y,r*.97);
    case 20:return circ(x,y,r*.66);
  }
}
const filled=s=>[15,16,17,18,19,20].includes(s);
function markerRadius(i){return 3+4.9*Math.sqrt(i/31);}
function legendRadius(s){return ({15:4.4,16:4.2,18:3.8,19:5.6,20:4.2})[s]||5;}

/* Catmull-Rom through the fitted points */
function curveThrough(pts,start){
  let d=(start?'M':'L')+n(pts[0][0])+' '+n(pts[0][1]);
  for(let i=0;i<pts.length-1;i++){
    const p0=pts[Math.max(i-1,0)],p1=pts[i],p2=pts[i+1],p3=pts[Math.min(i+2,pts.length-1)];
    const c1x=p1[0]+(p2[0]-p0[0])/6,c1y=p1[1]+(p2[1]-p0[1])/6;
    const c2x=p2[0]-(p3[0]-p1[0])/6,c2y=p2[1]-(p3[1]-p1[1])/6;
    d+=`C${n(c1x)} ${n(c1y)} ${n(c2x)} ${n(c2y)} ${n(p2[0])} ${n(p2[1])}`;
  }
  return d;
}

/* x axis function is shared by all panels */
const xScale=s=>556.8+(s-0.4)*2332.5;
const panelDefs=[
  {id:'a',vals:panelAValues,ticks:ticksA,top:44,bottom:716.7,y:v=>555.7+(25-v)*6.72,sx:smoothA_x,sy:smoothA_y,hi:smoothA_hi,lo:smoothA_lo},
  {id:'b',vals:panelBValues,ticks:ticksB,top:829,bottom:1500.6,y:v=>1488.3-v*4.703,sx:smoothB_x,sy:smoothB_y,hi:smoothB_hi,lo:smoothB_lo},
  {id:'c',vals:panelCValues,ticks:ticksC,top:1613,bottom:2285,y:v=>1732+(200-v)*3.222,sx:smoothC_x,sy:smoothC_y,hi:smoothC_hi,lo:smoothC_lo}
];
const AXL=94.7,AXR=1743;
const panelsRoot=document.getElementById('panels');
panelDefs.forEach(p=>{
  const g=mk('g',panelsRoot);
  
  
  /* points */
  regionNames.forEach((name,ri)=>{
    const sg=mk('g',g);
    const slug=name.toLowerCase().replace(/[^a-z]+/g,'-');
    
    
    const xs=regionSdi[ri],ys=p.vals[ri],shape=regionShapes[ri],col=regionColors[ri];
    const len=Math.min(xs.length,ys.length);
    for(let i=0;i<len;i++){
      const m=mk('path',sg);
      
      
      m.setAttribute('d',shapePath(shape,xScale(xs[i]),p.y(ys[i]),markerRadius(i)));
      m.setAttribute('fill',filled(shape)?col:'none');
      m.setAttribute('stroke',col);
      m.setAttribute('stroke-width',filled(shape)?'0.6':'1.6');
      m.setAttribute('stroke-linejoin','miter');
    }
  });
  /* ribbon */
  const upper=p.sx.map((s,i)=>[xScale(s),p.y(p.hi[i])]);
  const lower=p.sx.map((s,i)=>[xScale(s),p.y(p.lo[i])]).reverse();
  const rib=mk('path',g);
  
  
  rib.setAttribute('d',curveThrough(upper,true)+curveThrough(lower,false)+'Z');
  rib.setAttribute('fill','#999999');
  rib.setAttribute('fill-opacity','0.4');
  /* line */
  const linePts=p.sx.map((s,i)=>[xScale(s),p.y(p.sy[i])]);
  const line=mk('path',g);
  
  
  line.setAttribute('d',curveThrough(linePts,true));
  line.setAttribute('fill','none');
  line.setAttribute('stroke','#000');
  line.setAttribute('stroke-width','4');
  line.setAttribute('stroke-linejoin','round');
  /* axes */
  const ax=mk('path',g);
  
  
  ax.setAttribute('d',`M${AXL} ${p.top}V${p.bottom}H${AXR}`);
  ax.setAttribute('fill','none');
  ax.setAttribute('stroke','#000');
  ax.setAttribute('stroke-width','2');
  ticksX.forEach(t=>{
    const x=xScale(t);
    const tk=mk('path',g);
    
    
    tk.setAttribute('d',`M${n(x)} ${p.bottom}v6`);
    tk.setAttribute('stroke','#333');
    tk.setAttribute('stroke-width','1.6');
    const tl=mk('text',g);
    
    
    tl.setAttribute('class','tick');
    tl.setAttribute('x',n(x));
    tl.setAttribute('y',p.bottom+24);
    tl.setAttribute('text-anchor','middle');
    tl.textContent=t.toFixed(1);
  });
  p.ticks.forEach(t=>{
    const y=p.y(t);
    const tk=mk('path',g);
    
    
    tk.setAttribute('d',`M${AXL-6} ${n(y)}h6`);
    tk.setAttribute('stroke','#333');
    tk.setAttribute('stroke-width','1.6');
    const tl=mk('text',g);
    
    
    tl.setAttribute('class','tick');
    tl.setAttribute('x',AXL-11);
    tl.setAttribute('y',n(y+6));
    tl.setAttribute('text-anchor','end');
    tl.textContent=String(t);
  });
});

/* ---------- region legend ---------- */
const legendColumns=[[0,57.3,86.2],[5,334,363],[10,577.4,605.9],[15,863,891.8],[20,1147,1175.3]];
const legendRows=[2390,2436.3,2482.8,2529,2575.3];
const legendRoot=document.getElementById('legend');
legendColumns.forEach(col=>{
  legendRows.forEach((ry,ro)=>{
    const idx=col[0]+ro;
    if(idx>=regionNames.length)return;
    const e=mk('g',legendRoot);
    
    
    const k=mk('path',e);
    
    
    const sh=regionShapes[idx];
    k.setAttribute('d',shapePath(sh,col[1],ry,legendRadius(sh)));
    k.setAttribute('fill',filled(sh)?regionColors[idx]:'none');
    k.setAttribute('stroke',regionColors[idx]);
    k.setAttribute('stroke-width',filled(sh)?'0.6':'1.5');
    const t=mk('text',e);
    
    
    t.setAttribute('class','lg');
    t.setAttribute('x',col[2]);
    t.setAttribute('y',ry+6);
    t.textContent=regionNames[idx];
  });
});

/* ---------- year size legend ---------- */
const sizeCols=[[1525.7,1555],[1623,1652],[1720.3,1749]];
const sizeRows=[2390,2436.3];
const sizeRadii=[3.7,5.3,6,6.7,7,7.3];
const sizeRoot=document.getElementById('sizeLegend');
sizeCols.forEach((c,ci)=>{
  sizeRows.forEach((ry,ro)=>{
    const idx=ci*2+ro;
    const e=mk('g',sizeRoot);
    
    
    const d=mk('circle',e);
    
    
    d.setAttribute('cx',c[0]);
    d.setAttribute('cy',ry);
    d.setAttribute('r',sizeRadii[idx]);
    d.setAttribute('fill','#000');
    const t=mk('text',e);
    
    
    t.setAttribute('class','lg');
    t.setAttribute('x',c[1]);
    t.setAttribute('y',ry+6);
    t.textContent=yearLabels[idx];
  });
});
</script>
</body>
</html>
